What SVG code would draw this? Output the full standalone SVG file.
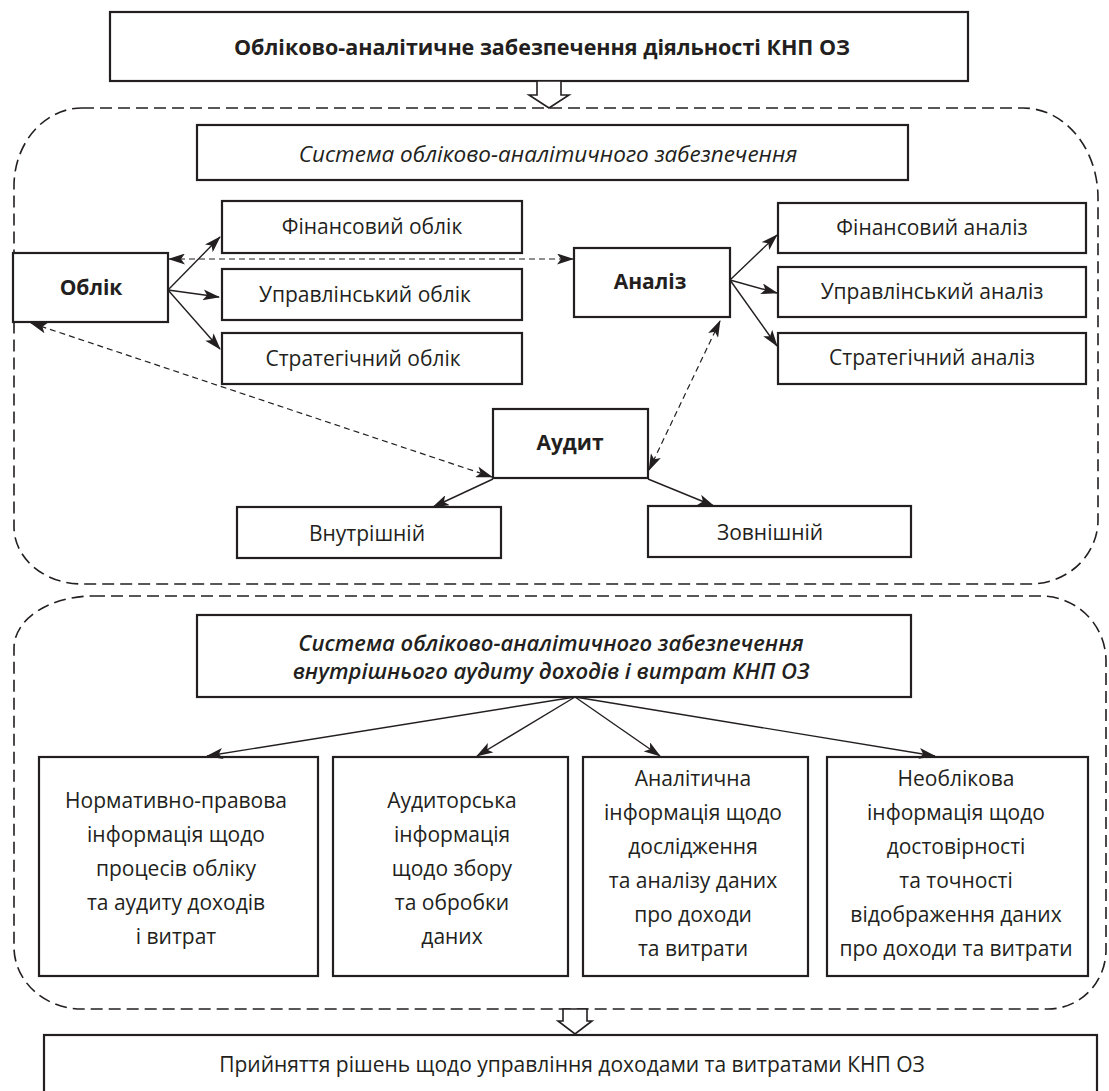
<svg xmlns="http://www.w3.org/2000/svg" width="1109" height="1091" viewBox="0 0 1109 1091">
<style>
.box{fill:#fff;stroke:#231f20;stroke-width:2.2}
.cont{fill:none;stroke:#231f20;stroke-width:1.6;stroke-dasharray:12 6}
.t{font-family:"Open Sans","Noto Sans","Liberation Sans",sans-serif;font-size:21px;fill:#231f20;text-anchor:middle;dominant-baseline:central}
.b{font-weight:bold}
.s{font-weight:600}
.i{font-style:italic}
.ln{stroke:#231f20;stroke-width:1.4;fill:none;marker-end:url(#ah)}
.dl{stroke:#231f20;stroke-width:1.2;fill:none;stroke-dasharray:6 4;marker-start:url(#ah);marker-end:url(#ah)}
.ha{fill:#fff;stroke:#231f20;stroke-width:1.6}
</style>
<defs>
<marker id="ah" viewBox="0 0 17 11" refX="16" refY="5.5" markerWidth="17" markerHeight="11" markerUnits="userSpaceOnUse" orient="auto-start-reverse">
<path d="M0,0 L17,5.5 L0,11 L4,5.5 z" fill="#231f20"/>
</marker>
</defs>

<g id="containers">
<path class="cont" d="M82,108 H1023 A75,90 0 0 1 1098,198 V520 A68,64 0 0 1 1030,584 H82 A68,57 0 0 1 14,527 V186 A68,78 0 0 1 82,108 Z"/>
<path class="cont" d="M93,596 H1041 A65,65 0 0 1 1106,661 V950 A58,59 0 0 1 1048,1009 H82 A68,62 0 0 1 14,947 V648 A79,52 0 0 1 93,596 Z"/>
</g>

<g id="n-top"><rect class="box" x="110" y="12" width="858" height="69"/><text class="t b" x="542" y="46" style="font-size:21.5px">Обліково-аналітичне забезпечення діяльності КНП ОЗ</text></g>
<g id="n-sys1"><rect class="box" x="197" y="125" width="711" height="55"/><text class="t i" x="548" y="153" style="font-size:22.5px">Система обліково-аналітичного забезпечення</text></g>
<g id="n-oblik"><rect class="box" x="13" y="253" width="155" height="69"/><text class="t b" x="91" y="287">Облік</text></g>
<g id="n-fo"><rect class="box" x="222" y="201" width="300" height="52"/><text class="t" x="372" y="226">Фінансовий облік</text></g>
<g id="n-uo"><rect class="box" x="222" y="269" width="300" height="51"/><text class="t" x="365" y="294">Управлінський облік</text></g>
<g id="n-so"><rect class="box" x="222" y="333" width="300" height="51"/><text class="t" x="363" y="358">Стратегічний облік</text></g>
<g id="n-analiz"><rect class="box" x="574" y="248" width="156" height="69"/><text class="t b" x="650" y="281">Аналіз</text></g>
<g id="n-fa"><rect class="box" x="778" y="203" width="308" height="50"/><text class="t" x="932" y="227">Фінансовий аналіз</text></g>
<g id="n-ua"><rect class="box" x="778" y="267" width="308" height="50"/><text class="t" x="932" y="291">Управлінський аналіз</text></g>
<g id="n-sa"><rect class="box" x="778" y="333" width="308" height="51"/><text class="t" x="932" y="357">Стратегічний аналіз</text></g>
<g id="n-audit"><rect class="box" x="493" y="409" width="155" height="69"/><text class="t b" x="570" y="442">Аудит</text></g>
<g id="n-vn"><rect class="box" x="237" y="507" width="264" height="51"/><text class="t" x="367" y="533">Внутрішній</text></g>
<g id="n-zv"><rect class="box" x="648" y="506" width="263" height="51"/><text class="t" x="770" y="532">Зовнішній</text></g>

<g id="n-sys2"><rect class="box" x="197" y="615" width="714" height="82"/>
<text class="t s i" x="551" y="642" style="font-size:22px">Система обліково-аналітичного забезпечення</text>
<text class="t s i" x="551" y="670" style="font-size:22px">внутрішнього аудиту доходів і витрат КНП ОЗ</text></g>

<g id="n-b1"><rect class="box" x="39" y="757" width="279" height="219"/>
<text class="t" x="176" y="800">Нормативно-правова</text>
<text class="t" x="176" y="834">інформація щодо</text>
<text class="t" x="176" y="868">процесів обліку</text>
<text class="t" x="176" y="902">та аудиту доходів</text>
<text class="t" x="176" y="936">і витрат</text></g>
<g id="n-b2"><rect class="box" x="333" y="757" width="235" height="219"/>
<text class="t" x="452" y="800">Аудиторська</text>
<text class="t" x="452" y="834">інформація</text>
<text class="t" x="452" y="868">щодо збору</text>
<text class="t" x="452" y="902">та обробки</text>
<text class="t" x="452" y="936">даних</text></g>
<g id="n-b3"><rect class="box" x="583" y="757" width="225" height="219"/>
<text class="t" x="693" y="778">Аналітична</text>
<text class="t" x="693" y="812">інформація щодо</text>
<text class="t" x="693" y="846">дослідження</text>
<text class="t" x="693" y="880">та аналізу даних</text>
<text class="t" x="693" y="914">про доходи</text>
<text class="t" x="693" y="948">та витрати</text></g>
<g id="n-b4"><rect class="box" x="827" y="757" width="261" height="219"/>
<text class="t" x="956" y="778">Необлікова</text>
<text class="t" x="956" y="812">інформація щодо</text>
<text class="t" x="956" y="846">достовірності</text>
<text class="t" x="956" y="880">та точності</text>
<text class="t" x="956" y="914">відображення даних</text>
<text class="t" x="956" y="948">про доходи та витрати</text></g>

<g id="n-final"><rect class="box" x="44" y="1035" width="1053" height="70"/><text class="t" x="572" y="1064">Прийняття рішень щодо управління доходами та витратами КНП ОЗ</text></g>

<g id="connectors">
<path class="ha" d="M537,81 H561 V95 H569 L549,108 L529,95 H537 Z"/>
<path class="ha" d="M563,1009 H587 V1021 H592 L575,1034 L558,1021 H563 Z"/>
<line class="ln" x1="168" y1="290" x2="220" y2="237"/>
<line class="ln" x1="168" y1="290" x2="219" y2="297"/>
<line class="ln" x1="168" y1="290" x2="220" y2="349"/>
<line class="dl" x1="169" y1="259" x2="573" y2="259"/>
<line class="ln" x1="730" y1="280" x2="777" y2="235"/>
<line class="ln" x1="730" y1="280" x2="777" y2="293"/>
<line class="ln" x1="730" y1="280" x2="777" y2="346"/>
<line class="dl" x1="31" y1="323" x2="492" y2="477"/>
<line class="dl" x1="720" y1="321" x2="649" y2="470"/>
<line class="ln" x1="493" y1="479" x2="433" y2="507"/>
<line class="ln" x1="648" y1="479" x2="714" y2="506"/>
<line class="ln" x1="575" y1="697" x2="207" y2="756"/>
<line class="ln" x1="575" y1="697" x2="477" y2="756"/>
<line class="ln" x1="575" y1="697" x2="660" y2="756"/>
<line class="ln" x1="575" y1="697" x2="935" y2="756"/>
</g>
</svg>
